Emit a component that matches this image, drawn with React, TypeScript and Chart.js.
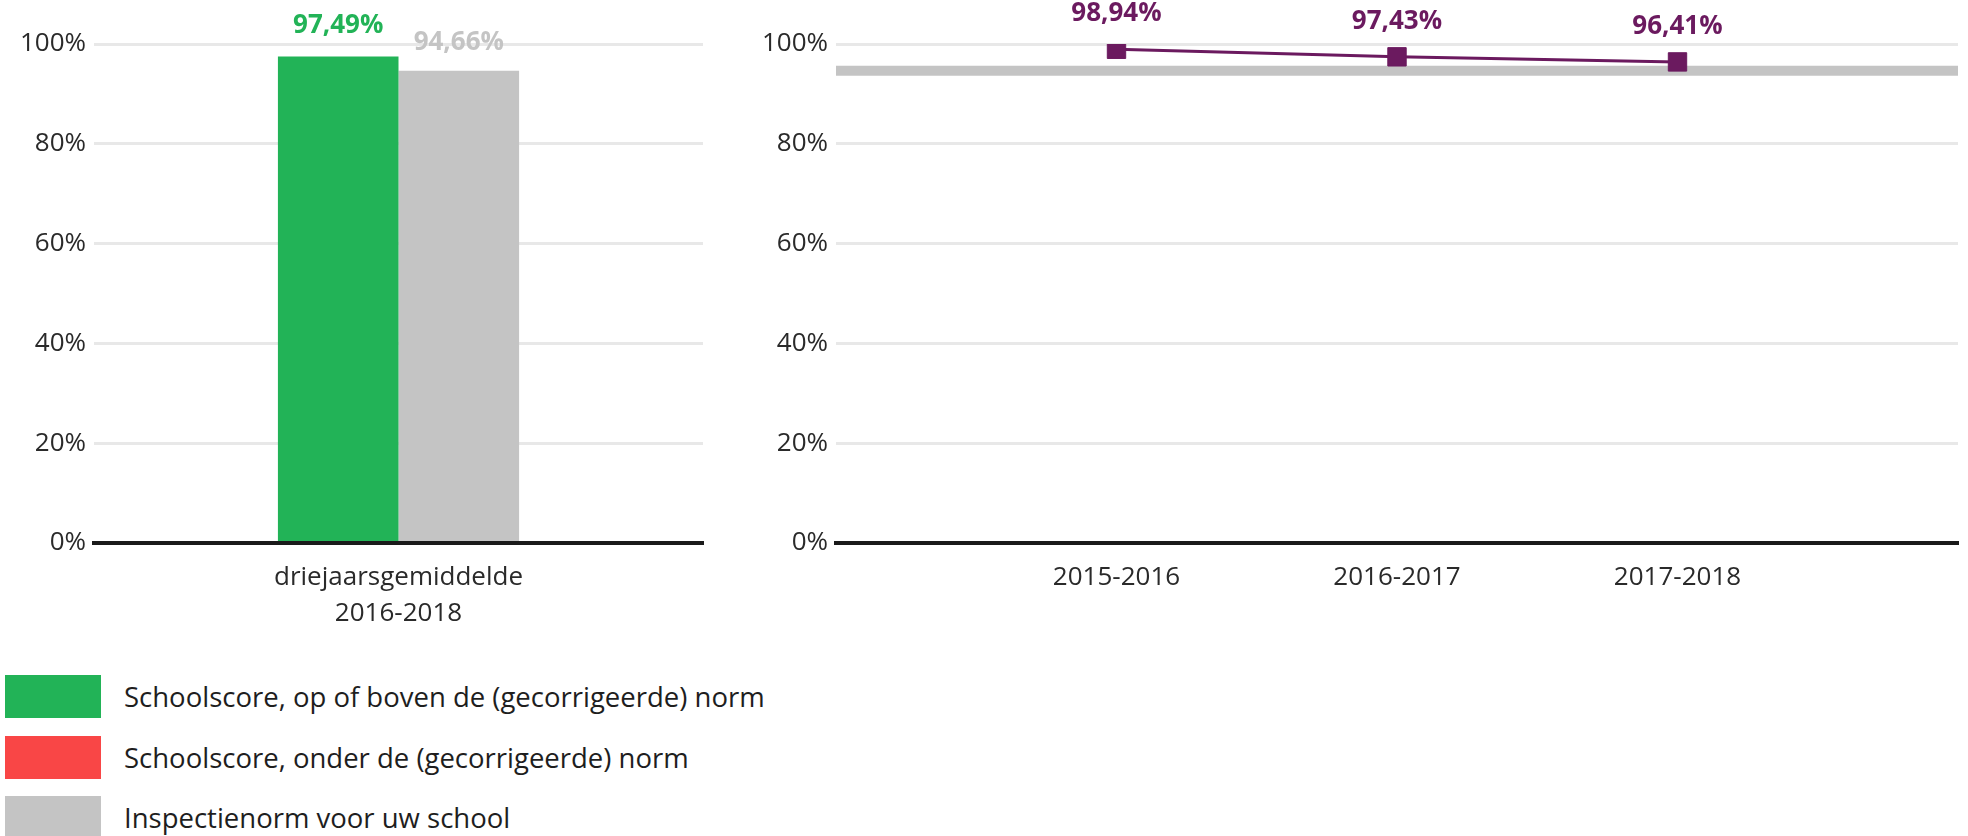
import React, { useEffect, useRef } from 'react';
import { Chart, registerables } from 'chart.js';

Chart.register(...registerables);

const FONT = "'Open Sans', sans-serif";

// ---- data ----
const barCategories = [['driejaarsgemiddelde', '2016-2018']];
const schoolScore3yr = [97.49];
const normScore3yr = [94.66];

const yearCategories = ['', '2015-2016', '2016-2017', '2017-2018', ''];
const yearScores = [null, 98.94, 97.43, 96.41, null];
const yearNorm = [94.66, 94.66, 94.66, 94.66, 94.66];

const yMin = 0;
const yMax = 100;
const yStep = 20;

const legendLabels = [
  'Schoolscore, op of boven de (gecorrigeerde) norm',
  'Schoolscore, onder de (gecorrigeerde) norm',
  'Inspectienorm voor uw school',
];

// ---- styles ----
const GREEN = '#22b357';
const RED = '#f94646';
const GREY = '#c4c4c4';
const PURPLE = '#6b1a5f';
const TEXT = '#2a2a2a';
const legendColors = [GREEN, RED, GREY];

const fmt = (v: number) => v.toFixed(2).replace('.', ',') + '%';

const valueLabelPlugin = {
  id: 'valueLabels',
  afterDatasetsDraw(chart: any) {
    const ctx = chart.ctx;
    chart.data.datasets.forEach((ds: any, di: number) => {
      if (!ds.showValues) return;
      const meta = chart.getDatasetMeta(di);
      meta.data.forEach((el: any, i: number) => {
        const v = ds.data[i];
        if (v === null || v === undefined) return;
        ctx.save();
        ctx.font = `bold ${ds.valueFontSize || 26}px ${FONT}`;
        ctx.fillStyle = ds.valueColor;
        ctx.textAlign = 'center';
        ctx.textBaseline = 'alphabetic';
        ctx.fillText(fmt(v), el.x, el.y - (ds.valueOffset || 24));
        ctx.restore();
      });
    });
  },
};

function yScale(width: number) {
  return {
    min: yMin,
    max: yMax,
    afterFit: (s: any) => {
      s.width = width;
    },
    border: { display: false },
    grid: {
      drawTicks: false,
      color: (c: any) => (c.tick && c.tick.value === 0 ? 'rgba(0,0,0,0)' : '#e8e8e8'),
      lineWidth: 3,
    },
    ticks: {
      stepSize: yStep,
      padding: 8,
      color: TEXT,
      font: { family: FONT, size: 26 },
      callback: (v: any) => v + '%',
    },
  };
}

function xScale(height: number, offset: boolean) {
  return {
    offset,
    afterFit: (s: any) => {
      s.height = height;
    },
    grid: { display: false, drawTicks: false },
    border: { display: true, color: '#1a1a1a', width: 4, z: 1 },
    ticks: {
      padding: 17,
      color: TEXT,
      autoSkip: false,
      maxRotation: 0,
      font: { family: FONT, size: 26, lineHeight: 1.38 },
    },
  };
}

const CH = 650; // canvas height
const AREA_TOP = 44;
const AREA_BOTTOM = 543;

function BarChart() {
  const ref = useRef<HTMLCanvasElement>(null);
  useEffect(() => {
    const chart = new Chart(ref.current!, {
      type: 'bar',
      data: {
        labels: barCategories as any,
        datasets: [
          {
            label: legendLabels[0],
            data: schoolScore3yr,
            backgroundColor: GREEN,
            barPercentage: 1,
            categoryPercentage: 0.396,
            showValues: true,
            valueColor: GREEN,
            valueOffset: 24,
            valueFontSize: 26,
          } as any,
          {
            label: legendLabels[2],
            data: normScore3yr,
            backgroundColor: GREY,
            barPercentage: 1,
            categoryPercentage: 0.396,
            showValues: true,
            valueColor: GREY,
            valueOffset: 21,
            valueFontSize: 26,
          } as any,
        ],
      },
      options: {
        animation: false,
        responsive: false,
        devicePixelRatio: 1,
        layout: { padding: { top: AREA_TOP, right: 12, left: 0, bottom: 0 } },
        plugins: { legend: { display: false }, tooltip: { enabled: false } },
        scales: {
          x: xScale(CH - AREA_BOTTOM, true) as any,
          y: yScale(94) as any,
        },
      },
      plugins: [valueLabelPlugin],
    });
    return () => chart.destroy();
  }, []);
  return <canvas ref={ref} width={715} height={CH} style={{ width: 715, height: CH, display: 'block' }} />;
}

const LINE_W = 1260;

function LineChart() {
  const ref = useRef<HTMLCanvasElement>(null);
  useEffect(() => {
    const chart = new Chart(ref.current!, {
      type: 'line',
      data: {
        labels: yearCategories,
        datasets: [
          {
            label: 'Schoolscore',
            data: yearScores,
            borderColor: PURPLE,
            backgroundColor: PURPLE,
            borderWidth: 3,
            pointStyle: 'rect',
            pointRadius: 13,
            pointBorderWidth: 1,
            pointBorderColor: PURPLE,
            pointBackgroundColor: PURPLE,
            spanGaps: false,
            showValues: true,
            valueColor: PURPLE,
            valueOffset: 28,
            valueFontSize: 26,
          } as any,
          {
            label: legendLabels[2],
            data: yearNorm,
            borderColor: GREY,
            borderWidth: 10,
            pointRadius: 0,
            borderCapStyle: 'butt',
          } as any,
        ],
      },
      options: {
        animation: false,
        responsive: false,
        devicePixelRatio: 1,
        layout: { padding: { top: AREA_TOP, right: 2, left: 0, bottom: 0 } },
        plugins: { legend: { display: false }, tooltip: { enabled: false } },
        scales: {
          x: xScale(CH - AREA_BOTTOM, false) as any,
          y: yScale(121) as any,
        },
      },
      plugins: [valueLabelPlugin],
    });
    return () => chart.destroy();
  }, []);
  return <canvas ref={ref} width={LINE_W} height={CH} style={{ width: LINE_W, height: CH, display: 'block' }} />;
}

export default function App() {
  return (
    <div
      style={{
        position: 'fixed',
        left: 0,
        top: 0,
        width: 1968,
        height: 836,
        background: '#ffffff',
        overflow: 'hidden',
        fontFamily: FONT,
      }}
    >
      <div style={{ position: 'absolute', left: 0, top: 0 }}>
        <BarChart />
      </div>
      <div style={{ position: 'absolute', left: 715, top: 0 }}>
        <LineChart />
      </div>
      {legendLabels.map((lab, i) => (
        <div
          key={lab}
          style={{
            position: 'absolute',
            left: 5,
            top: 675 + i * 60.5,
            height: 43,
            display: 'flex',
            alignItems: 'center',
          }}
        >
          <div style={{ width: 96, height: 43, background: legendColors[i] }} />
          <span style={{ marginLeft: 23, fontSize: 27.5, color: '#1e1e1e', whiteSpace: 'nowrap' }}>{lab}</span>
        </div>
      ))}
    </div>
  );
}
